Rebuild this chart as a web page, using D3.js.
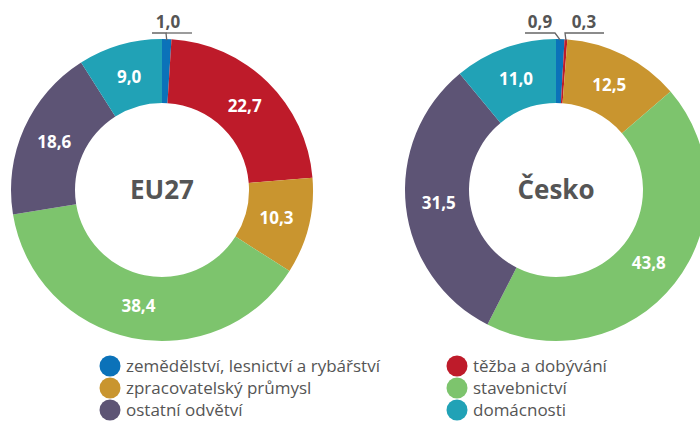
<!DOCTYPE html>
<html>
<head>
<meta charset="utf-8">
<script src="https://cdn.jsdelivr.net/npm/d3@7"></script>
<style>
  body { margin: 0; background: #fff; }
  text { font-family: "Open Sans", "Noto Sans", sans-serif; }
</style>
</head>
<body>
<svg id="chart" width="700" height="428"></svg>
<script>
const categories = ["zemědělství, lesnictví a rybářství", "těžba a dobývání", "zpracovatelský průmysl",
  "stavebnictví", "ostatní odvětví", "domácnosti"];
const colors = ["#0b72b9", "#be1b2a", "#c9952f", "#7dc46d", "#5d5475", "#21a2b6"];
const euValues = [1.0, 22.7, 10.3, 38.4, 18.6, 9.0];
const czValues = [0.9, 0.3, 12.5, 43.8, 31.5, 11.0];
const titles = ["EU27", "Česko"];
// legend order: two columns
const legendLeft = [0, 2, 4];
const legendRight = [1, 3, 5];

const svg = d3.select("#chart");
const outerR = 151, innerR = 87;
const fmt = v => d3.format(".1f")(v).replace(".", ",");

const pie = d3.pie().sort(null).value(d => d.v);
const arc = d3.arc().innerRadius(innerR).outerRadius(outerR);
const labelArc = d3.arc().innerRadius(118).outerRadius(118);

function drawDonut(cx, cy, values, title, callouts) {
    const g = svg.append("g").attr("transform", `translate(${cx} ${cy})`);
    const data = values.map((v, i) => ({ v: v, i: i }));
    const arcs = pie(data);

    g.selectAll("path")
        .data(arcs)
        .enter()
        .append("path")
        .attr("d", arc)
        .style("fill", d => colors[d.data.i]);

    g.selectAll(".val")
        .data(arcs.filter(d => d.data.v >= 5))
        .enter()
        .append("text")
        .attr("class", "val")
        .attr("transform", d => `translate(${labelArc.centroid(d)})`)
        .attr("text-anchor", "middle")
        .attr("dy", "0.36em")
        .style("fill", "#fff")
        .style("font-weight", "bold")
        .style("font-size", "17px")
        .text(d => fmt(d.data.v));

    g.append("text")
        .attr("text-anchor", "middle")
        .attr("dy", "0.36em")
        .style("fill", "#555")
        .style("font-weight", "bold")
        .style("font-size", "26px")
        .text(title);

    // small slices with leader lines above the ring
    callouts.forEach(c => {
        const d = arcs[c.i];
        const a = (d.startAngle + d.endAngle) / 2;
        const px = Math.sin(a) * outerR, py = -Math.cos(a) * outerR;
        g.append("polyline")
            .attr("points", `${c.x1},${-157} ${c.x2},${-157} ${px},${py + 1}`)
            .style("fill", "none")
            .style("stroke", "#666")
            .style("stroke-width", "1.3px");
        g.append("text")
            .attr("x", c.tx)
            .attr("y", -162)
            .attr("text-anchor", "middle")
            .style("fill", "#555")
            .style("font-weight", "bold")
            .style("font-size", "17px")
            .text(fmt(d.data.v));
    });
}

drawDonut(162, 190, euValues, titles[0], [{ i: 0, x1: -10, x2: 4, tx: 6 }, ]);
drawDonut(556, 190, czValues, titles[1], [
    { i: 0, x1: -31, x2: -1, tx: -16 },
    { i: 1, x1: 48, x2: 9, tx: 28 }
]);

// extend the EU leader line to the right
svg.append("line")
    .attr("x1", 166).attr("x2", 192).attr("y1", 33).attr("y2", 33)
    .style("stroke", "#666").style("stroke-width", "1.3px");

function drawLegend(x, idx) {
    const g = svg.append("g").attr("transform", `translate(${x} 0)`);
    const item = g.selectAll("g")
        .data(idx)
        .enter()
        .append("g")
        .attr("transform", (d, i) => `translate(0 ${366 + i * 22})`);
    item.append("circle")
        .attr("r", 10.5)
        .style("fill", d => colors[d]);
    item.append("text")
        .attr("x", 16)
        .attr("dy", "0.35em")
        .style("fill", "#555")
        .style("font-size", "17px")
        .text(d => categories[d]);
}
drawLegend(110, legendLeft);
drawLegend(457, legendRight);
</script>
</body>
</html>
